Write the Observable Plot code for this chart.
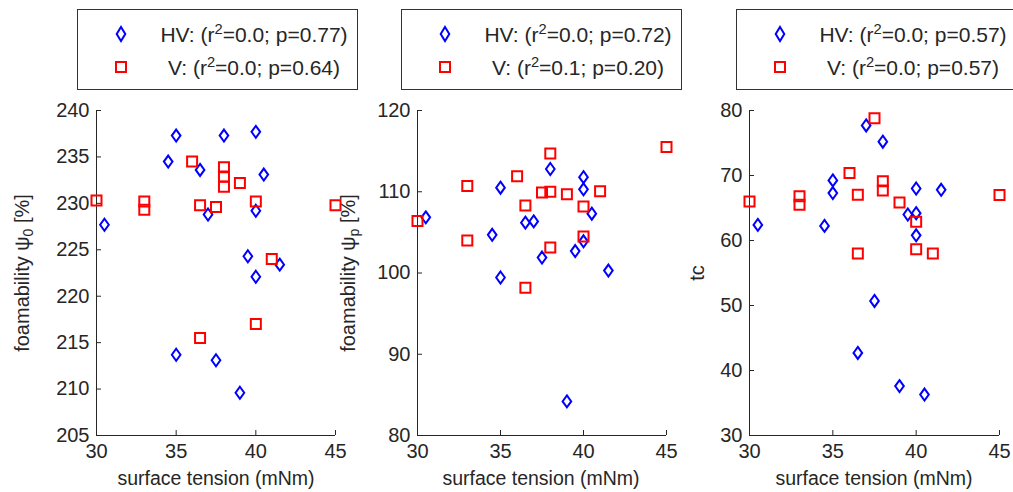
<!DOCTYPE html>
<html><head><meta charset="utf-8">
<script src="https://cdn.jsdelivr.net/npm/d3@7"></script>
<script src="https://cdn.jsdelivr.net/npm/@observablehq/plot@0.6"></script>
<style>
body{margin:0;background:#fff;font-family:"Liberation Sans",Arial,sans-serif;color:#262626;}
#chart{position:relative;width:1013px;height:492px;overflow:hidden;background:#fff;}
.panel{position:absolute;top:100px;}
.legend{position:absolute;top:9px;width:281px;height:81px;border:1px solid #333;box-sizing:border-box;background:#fff;}
.legend .mk{position:absolute;}
.legend .tx{position:absolute;white-space:nowrap;font-size:21px;transform:translate(-50%,-50%);}
.legend sup{font-size:0.7em;vertical-align:0.55em;line-height:0;}
.ylab{position:absolute;white-space:nowrap;font-size:20px;transform:translate(-50%,-50%) rotate(-90deg);}
.ylab sub{font-size:0.7em;vertical-align:-0.3em;line-height:0;}
.xlab{position:absolute;white-space:nowrap;font-size:19.5px;transform:translate(-50%,-50%);}
</style>
</head><body><div id="chart"></div>
<script>
// ---- data ----
const xTicks = [30, 35, 40, 45];
const seriesNames = ["HV", "V"];

// panel 1: foamability psi0
const p1Title = "foamability ψ<sub>0</sub> [%]";
const p1YTicks = [205, 210, 215, 220, 225, 230, 235, 240];
const hv1x = [30.5, 35, 34.5, 36.5, 37, 38, 40, 40.5, 40, 39.5, 40, 41.5, 35, 37.5, 39];
const hv1y = [227.7, 237.3, 234.5, 233.6, 228.8, 237.3, 237.7, 233.1, 229.2, 224.3, 222.1, 223.4, 213.7, 213.1, 209.6];
const v1x = [30, 33, 33, 36, 36.5, 37.5, 38, 38, 38, 39, 40, 41, 40, 36.5, 45];
const v1y = [230.3, 230.2, 229.3, 234.5, 229.8, 229.6, 233.9, 232.9, 231.8, 232.2, 230.2, 224.0, 217.0, 215.5, 229.8];
const p1Leg = ["HV: (r<sup>2</sup>=0.0; p=0.77)", "V: (r<sup>2</sup>=0.0; p=0.64)"];

// panel 2: foamability psip
const p2Title = "foamability ψ<sub>p</sub> [%]";
const p2YTicks = [80, 90, 100, 110, 120];
const hv2x = [30.5, 35, 34.5, 35, 36.5, 37, 37.5, 38, 39, 39.5, 40, 40, 40, 40.5, 41.5];
const hv2y = [106.85, 110.5, 104.7, 99.45, 106.2, 106.35, 101.9, 112.8, 84.2, 102.7, 111.8, 110.3, 103.9, 107.3, 100.3];
const v2x = [30, 33, 33, 36, 36.5, 36.5, 37.5, 38, 38, 38, 39, 40, 40, 41, 45];
const v2y = [106.4, 110.7, 104.0, 111.9, 108.3, 98.2, 109.9, 110.0, 114.7, 103.15, 109.7, 108.2, 104.5, 110.05, 115.5];
const p2Leg = ["HV: (r<sup>2</sup>=0.0; p=0.72)", "V: (r<sup>2</sup>=0.1; p=0.20)"];

// panel 3: tc
const p3Title = "tc";
const p3YTicks = [30, 40, 50, 60, 70, 80];
const hv3x = [30.5, 35, 35, 34.5, 37, 38, 37.5, 36.5, 39, 40.5, 40, 40, 39.5, 40, 41.5];
const hv3y = [62.4, 69.25, 67.3, 62.25, 77.7, 75.2, 50.7, 42.7, 37.6, 36.3, 68.0, 64.2, 64.0, 60.8, 67.8];
const v3x = [30, 33, 33, 36, 36.5, 36.5, 37.5, 38, 38, 39, 40, 40, 41, 45];
const v3y = [66.0, 66.8, 65.5, 70.4, 67.05, 58.0, 78.8, 69.1, 67.7, 65.85, 62.9, 58.65, 58.0, 67.0];
const p3Leg = ["HV: (r<sup>2</sup>=0.0; p=0.57)", "V: (r<sup>2</sup>=0.0; p=0.57)"];

const xTitle = "surface tension (mNm)";

// ---- drawing ----
const BLUE = "#0000ff", RED = "#ff0000", INK = "#262626";
const tallDiamond = {draw(ctx, size) {
  const r = Math.sqrt(size / Math.PI), w = r * 0.72;
  ctx.moveTo(0, -r); ctx.lineTo(w, 0); ctx.lineTo(0, r); ctx.lineTo(-w, 0); ctx.closePath();
}};
const squareSym = {draw(ctx, size) {
  const r = Math.sqrt(size / Math.PI);
  ctx.rect(-r, -r, 2 * r, 2 * r);
}};

const chart = document.getElementById("chart");

const panels = [
  {left: 0, width: 345, ml: 96, mr: 10, yt: p1YTicks, hvx: hv1x, hvy: hv1y, vx: v1x, vy: v1y, title: p1Title, leg: p1Leg, ylx: 22, lgx: 77, xlx: 216},
  {left: 345, width: 335, ml: 72, mr: 14, yt: p2YTicks, hvx: hv2x, hvy: hv2y, vx: v2x, vy: v2y, title: p2Title, leg: p2Leg, ylx: 348, lgx: 401, xlx: 541},
  {left: 680, width: 333, ml: 69, mr: 14, yt: p3YTicks, hvx: hv3x, hvy: hv3y, vx: v3x, vy: v3y, title: p3Title, leg: p3Leg, ylx: 697, lgx: 736, xlx: 874}
];

for (const p of panels) {
  const hv = p.hvx.map((x, i) => ({x, y: p.hvy[i], s: seriesNames[0]}));
  const v = p.vx.map((x, i) => ({x, y: p.vy[i], s: seriesNames[1]}));
  const y0 = p.yt[0], y1 = p.yt[p.yt.length - 1];
  const svg = Plot.plot({
    width: p.width, height: 392,
    marginLeft: p.ml, marginRight: p.mr, marginTop: 10, marginBottom: 57,
    style: `font-family:"Liberation Sans",Arial,sans-serif;font-size:20px;color:${INK};overflow:visible;background:transparent;`,
    x: {domain: [xTicks[0], xTicks[xTicks.length - 1]]},
    y: {domain: [y0, y1]},
    marks: [
      Plot.ruleX([xTicks[0]], {stroke: INK, strokeWidth: 1}),
      Plot.ruleY([y0], {stroke: INK, strokeWidth: 1}),
      Plot.axisX(xTicks, {tickSize: -5, tickPadding: 13, label: null, strokeWidth: 1}),
      Plot.axisY(p.yt, {tickSize: -5, tickPadding: 12, label: null, strokeWidth: 1}),
      Plot.dot(hv, {x: "x", y: "y", symbol: tallDiamond, r: 6, stroke: BLUE, strokeWidth: 2, fill: "none"}),
      Plot.dot(v, {x: "x", y: "y", symbol: squareSym, r: 5, stroke: RED, strokeWidth: 2, fill: "none"})
    ]
  });
  const wrap = document.createElement("div");
  wrap.className = "panel";
  wrap.style.left = p.left + "px";
  wrap.appendChild(svg);
  chart.appendChild(wrap);

  const yl = document.createElement("div");
  yl.className = "ylab";
  yl.style.left = p.ylx + "px"; yl.style.top = "273px";
  yl.innerHTML = p.title;
  chart.appendChild(yl);

  const xl = document.createElement("div");
  xl.className = "xlab";
  xl.style.left = p.xlx + "px"; xl.style.top = "478px";
  xl.textContent = xTitle;
  chart.appendChild(xl);

  const lg = document.createElement("div");
  lg.className = "legend";
  lg.style.left = p.lgx + "px";
  lg.innerHTML =
    `<svg class="mk" style="left:36px;top:15px" width="14" height="18"><path d="M7,2L11.3,9L7,16L2.7,9Z" fill="none" stroke="${BLUE}" stroke-width="2"/></svg>` +
    `<svg class="mk" style="left:36px;top:50px" width="14" height="14"><rect x="2" y="2" width="10" height="10" fill="none" stroke="${RED}" stroke-width="2"/></svg>` +
    `<div class="tx" style="left:176px;top:25px">${p.leg[0]}</div>` +
    `<div class="tx" style="left:176px;top:58px">${p.leg[1]}</div>`;
  chart.appendChild(lg);
}
</script></body></html>
